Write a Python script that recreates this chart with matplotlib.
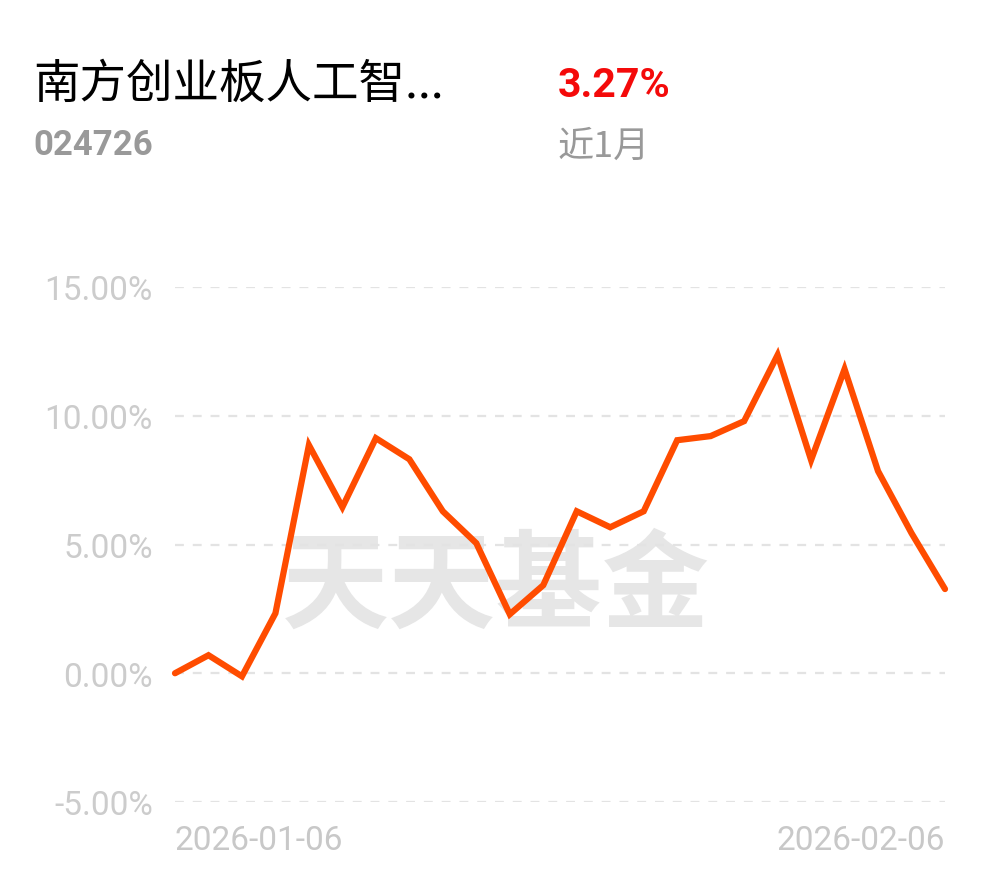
import matplotlib.pyplot as plt
from matplotlib.ticker import FuncFormatter

# Fund info
fund_name = "南方创业板人工智..."
fund_code = "024726"
period_return = "3.27%"
period_label = "近1月"

# Trading days and cumulative return (%)
dates = ["2026-01-06", "2026-01-07", "2026-01-08", "2026-01-09",
         "2026-01-12", "2026-01-13", "2026-01-14", "2026-01-15", "2026-01-16",
         "2026-01-19", "2026-01-20", "2026-01-21", "2026-01-22", "2026-01-23",
         "2026-01-26", "2026-01-27", "2026-01-28", "2026-01-29", "2026-01-30",
         "2026-02-02", "2026-02-03", "2026-02-04", "2026-02-05", "2026-02-06"]
returns = [0.00, 0.70, -0.12, 2.33, 8.86, 6.45, 9.13, 8.31, 6.29, 5.05,
           2.29, 3.42, 6.29, 5.67, 6.29, 9.05, 9.21, 9.79, 12.36, 8.28,
           11.81, 7.85, 5.44, 3.27]
y_ticks = [-5, 0, 5, 10, 15]

fig = plt.figure(figsize=(9.9, 8.78), dpi=100)
fig.patch.set_facecolor("white")

# Header texts
fig.text(33 / 990, 1 - 85 / 878, fund_name, fontsize=33.5, color="black",
         family=["Noto Sans CJK SC", "DejaVu Sans"], va="center", ha="left")
fig.text(33 / 990, 1 - 146 / 878, fund_code, fontsize=25, color="#999999",
         family="Roboto", weight="bold", va="center", ha="left")
fig.text(558 / 990, 1 - 86 / 878, period_return, fontsize=29.5, color="#f40a0a",
         family="Roboto", weight="bold", va="center", ha="left")
fig.text(558 / 990, 1 - 147 / 878, period_label, fontsize=26, color="#999999",
         family=["Noto Sans CJK SC", "DejaVu Sans"], va="center", ha="left")

# Chart area
ax = fig.add_axes([175 / 990, 75 / 878, 770 / 990, 515 / 878])
x = list(range(len(dates)))

# Watermark
ax.text(0.417, 0.417, "天天基金", transform=ax.transAxes, fontsize=77,
        color="#e6e6e6", family="Noto Sans CJK SC", weight="bold",
        ha="center", va="center", zorder=0)

for t in y_ticks:
    ax.axhline(t, color="#e3e3e3", linewidth=1.6, linestyle=(0, (4, 4)), zorder=1)

ax.plot(x, returns, color="#ff4c00", linewidth=4.5, solid_joinstyle="miter",
        solid_capstyle="round", zorder=3, clip_on=False)

ax.set_xlim(0, len(dates) - 1)
ax.set_ylim(-5, 15)
ax.set_yticks(y_ticks)
ax.yaxis.set_major_formatter(FuncFormatter(lambda v, p: f"{v:.2f}%"))
ax.tick_params(axis="y", length=0, pad=16, labelsize=24, labelcolor="#cccccc")
for lbl in ax.get_yticklabels():
    lbl.set_family("Roboto")

ax.set_xticks([0, len(dates) - 1])
ax.set_xticklabels([dates[0], dates[-1]])
ax.tick_params(axis="x", length=0, pad=16, labelsize=24, labelcolor="#c8c8c8")
xl = ax.get_xticklabels()
xl[0].set_ha("left")
xl[1].set_ha("right")
for lbl in xl:
    lbl.set_family("Roboto")

for s in ax.spines.values():
    s.set_visible(False)

fig.savefig("out.png", dpi=100, facecolor="white")
